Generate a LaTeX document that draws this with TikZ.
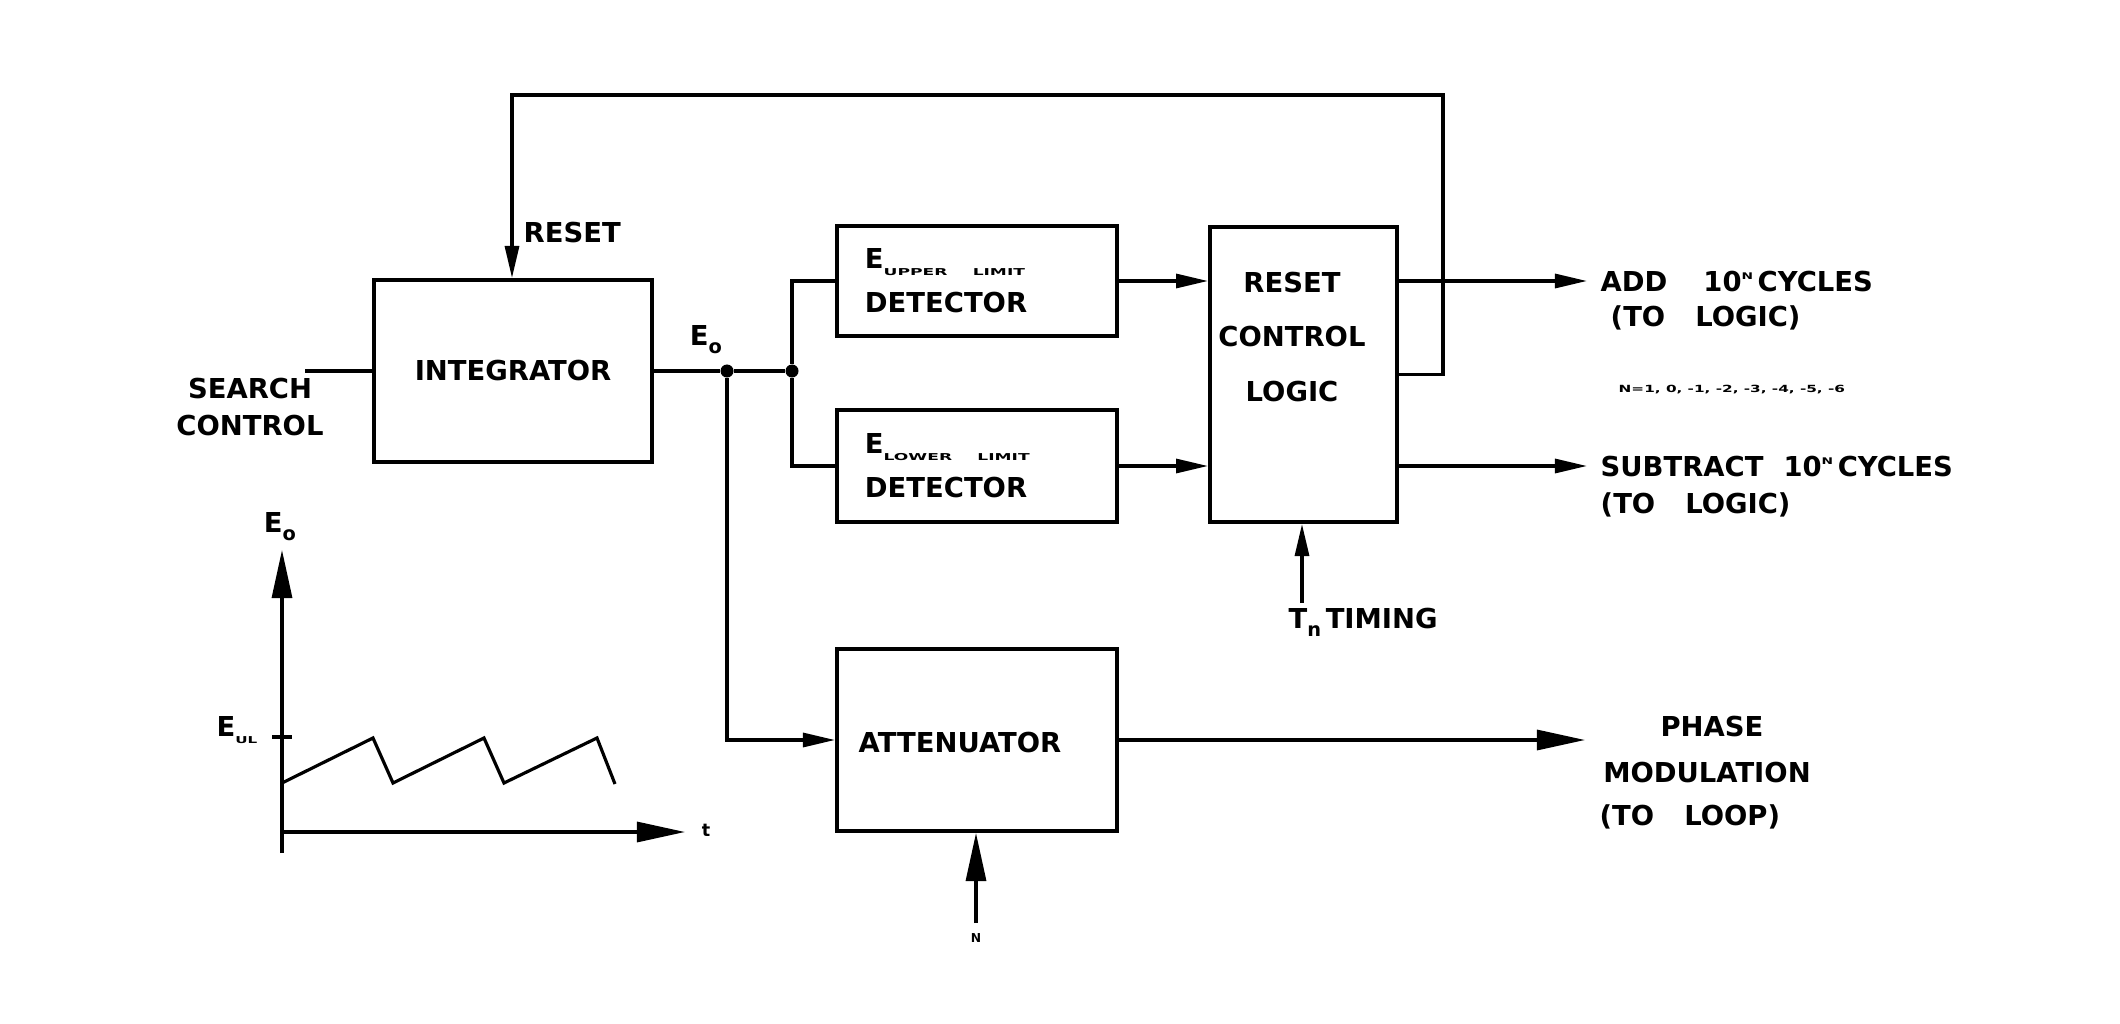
\documentclass[tikz,border=0pt]{standalone}
\usepackage{fontspec}
\setmainfont{DejaVu Sans}
\usepackage{graphicx}
\usetikzlibrary{arrows.meta}
\newcommand\lbsub[1]{\raisebox{-2.3pt}{\fontsize{5.5}{5.5}\selectfont #1}}
\newcommand\lbsup[1]{\raisebox{3.6pt}{\scalebox{1.5}[1]{\fontsize{2.6}{2.6}\selectfont #1}}}
\newcommand\wsub[2][1.8]{\raisebox{-2pt}{\scalebox{#1}[1]{\fontsize{2.7}{2.7}\selectfont #2}}}
\begin{document}
\begin{tikzpicture}[x=0.01cm,y=-0.01cm,
  txt/.style={font=\fontsize{7.8}{10}\selectfont\bfseries, inner sep=0},
  blk/.style={draw, line width=1.1pt, inner sep=0, font=\fontsize{7.8}{12.5}\selectfont\bfseries},
  wire/.style={line width=0.9pt},
  arr/.style={wire, -{Triangle[length=0.32cm,width=0.14cm]}},
  bigarr/.style={wire, -{Triangle[length=0.48cm,width=0.2cm]}},
  jdot/.style={circle, fill, inner sep=0, minimum size=0.13cm}]

\useasboundingbox (0,0) rectangle (2120,1024);

% blocks
\node[blk, minimum width=2.78cm, minimum height=1.82cm] (integ) at (513,371) {INTEGRATOR};
\node[blk, minimum width=2.8cm, minimum height=1.1cm, text width=2.24cm, inner xsep=0.28cm, align=left] (ud) at (977,281) {E\wsub{UPPER\hspace{4pt}LIMIT}\\DETECTOR};
\node[blk, minimum width=2.8cm, minimum height=1.12cm, text width=2.24cm, inner xsep=0.28cm, align=left] (ld) at (977,466) {E\wsub{LOWER\hspace{4pt}LIMIT}\\DETECTOR};
\node[blk, minimum width=1.87cm, minimum height=2.95cm] (rcl) at (1303.5,374.5) {};
\node[txt, align=center, font=\fontsize{7.8}{15.6}\selectfont\bfseries] (rcltext) at (1292,337) {RESET\\CONTROL\\LOGIC};
\node[blk, minimum width=2.8cm, minimum height=1.82cm] (att) at (977,740) {};
\node[txt] (atttext) at (960,743) {ATTENUATOR};

% junctions
\node[jdot] (j1) at (727,371) {};
\node[jdot] (j2) at (792,371) {};

% connectors
\coordinate (sc) at (305,371);
\draw[wire] (sc) -- (integ.west);
\draw[wire] (integ.east) -- (j1) -- (j2);
\draw[wire] (ud.west) -| (j2) |- (ld.west);
\draw[arr] (ud.east) -- (ud.east -| rcl.west);
\draw[arr] (ld.east) -- (ld.east -| rcl.west);
\draw[arr] (j1) |- (att.west);
\coordinate (addtip) at (1587,281);
\coordinate (subtip) at (1587,466);
\draw[arr] (rcl.east |- ud.east) -- (addtip);
\draw[arr] (rcl.east |- ld.east) -- (subtip);
\coordinate (fbr) at (1443,95);
\coordinate (fbl) at (512,95);
\draw[arr] (rcl.east) -| (fbr) -- (fbl) -- (fbl |- integ.north);
\coordinate (tim) at (1302,603);
\draw[arr] (tim) -- (tim |- rcl.south);
\coordinate (phtip) at (1585,740);
\draw[bigarr] (att.east) -- (phtip);
\coordinate (nin) at (976,923);
\draw[bigarr] (nin) -- (nin |- att.south);

% labels
\node[txt, align=center, font=\fontsize{7.8}{10.5}\selectfont\bfseries] (search) at (250,407) {SEARCH\\CONTROL};
\node[txt, anchor=west] (reset) at (523,233) {RESET};
\node[txt] (eo) at (706,340) {E\lbsub{o}};
\node[txt, anchor=west] (addl) at (1600,282) {ADD\hspace{0.36cm}10\lbsup{N}\,CYCLES};
\node[txt, anchor=west] (addl2) at (1610,318) {(TO\hspace{0.3cm}LOGIC)};
\node[txt, anchor=west] (nlist) at (1618,390) {\scalebox{1.55}[1]{\fontsize{2.8}{2.8}\selectfont\bfseries N=1, 0, -1, -2, -3, -4, -5, -6}};
\node[txt, anchor=west] (subl) at (1600,467) {SUBTRACT\hspace{0.2cm}10\lbsup{N}\,CYCLES};
\node[txt, anchor=west] (subl2) at (1600,505) {(TO\hspace{0.3cm}LOGIC)};
\node[txt, anchor=west] (timl) at (1288,622) {T\lbsub{n}\,TIMING};
\node[txt] (ph1) at (1712,727) {PHASE};
\node[txt] (ph2) at (1707,773) {MODULATION};
\node[txt, anchor=west] (ph3) at (1599,817) {(TO\hspace{0.3cm}LOOP)};
\node[txt, font=\fontsize{3.5}{3.5}\selectfont\bfseries] (nl) at (976,938) {N};

% graph
\coordinate (gorig) at (282,832);
\coordinate (ybot) at (282,853);
\coordinate (ytop) at (282,550);
\coordinate (xend) at (685,832);
\draw[bigarr] (ybot) -- (ytop);
\draw[bigarr] (gorig) -- (xend);
\draw[wire] (272,737) -- (292,737);
\draw[wire, line join=miter] (282,783) -- (373,738) -- (393,783) -- (484,738) -- (504,783) -- (597,738) -- (615,784);
\node[txt] (geo) at (280,527) {E\lbsub{o}};
\node[txt, anchor=east] (gul) at (258,730) {E\wsub[1.6]{UL}};
\node[txt, font=\fontsize{5}{5}\selectfont\bfseries] (gt) at (706,830) {t};
\end{tikzpicture}
\end{document}
